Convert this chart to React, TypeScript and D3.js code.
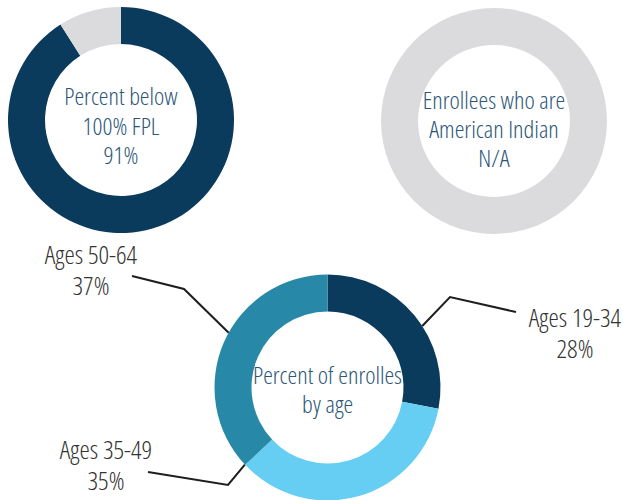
import React from "react";
import * as d3 from "d3";

const W = 623;
const H = 500;

// Data
const fplCategories = ["Below 100% FPL", "Other"];
const fplValues = [91, 9];
const fplText = ["Percent below", "100% FPL", "91%"];

const aiCategories = ["N/A"];
const aiValues = [100];
const aiText = ["Enrollees who are", "American Indian", "N/A"];

const ageCategories = ["Ages 19-34", "Ages 35-49", "Ages 50-64"];
const ageValues = [28, 35, 37];
const ageText = ["Percent of enrolles", "by age"];

// Styles / layout
const FONT = "'Open Sans', 'DejaVu Sans', sans-serif";
const INNER_COLOR = "#2c5677";
const LABEL_COLOR = "#333333";
const fplColors = ["#0a3b5c", "#dbdbdd"];
const aiColors = ["#dbdbdd"];
const ageColors = ["#0a3b5c", "#66cef3", "#2789a7"];

const R_OUT = 113;
const R_IN = 76;

// label layout: anchor angle on the ring (deg from top), elbow/end offsets relative to center, text position
const ageLabelLayout = [
  { anchorDeg: 57, elbow: [122.5, -90.5], end: [188.5, -75.5], text: [575, 318] },
  { anchorDeg: 227, elbow: [-99.5, 97.5], end: [-179.5, 84.5], text: [106, 450] },
  { anchorDeg: 299, elbow: [-143.5, -98.5], end: [-195.5, -111.5], text: [91, 255] },
];

const innerStyle = { fontFamily: FONT, fontSize: 24.5, fontStretch: "75%", fontWeight: 300 };
const labelStyle = { fontFamily: FONT, fontSize: 26, fontStretch: "75%", fontWeight: 300 };

function Donut({ cx, cy, values, colors, lines, lineGap, firstBaseline }: any) {
  const pie = d3.pie<number>().sort(null).value((d) => d);
  const arc = d3.arc<d3.PieArcDatum<number>>().innerRadius(R_IN).outerRadius(R_OUT);
  const arcs = pie(values);
  return (
    <g transform={`translate(${cx},${cy})`}>
      {arcs.map((a, i) => (
        <path key={i} d={arc(a) || ""} fill={colors[i]} />
      ))}
      {lines.map((t: string, i: number) => (
        <text
          key={i}
          x={0}
          y={firstBaseline + i * lineGap}
          textAnchor="middle"
          fill={INNER_COLOR}
          style={innerStyle}
        >
          {t}
        </text>
      ))}
    </g>
  );
}

export default function App() {
  const cx3 = 327.5;
  const cy3 = 387.5;
  const toRad = (d: number) => (d * Math.PI) / 180;
  return (
    <svg width={W} height={H} style={{ position: "absolute", left: 0, top: 0, background: "#fff" }}>
      <Donut cx={121} cy={120} values={fplValues} colors={fplColors} lines={fplText} lineGap={29.5} firstBaseline={-15} />
      <Donut cx={494} cy={121} values={aiValues} colors={aiColors} lines={aiText} lineGap={29} firstBaseline={-12} />
      <Donut cx={cx3} cy={cy3} values={ageValues} colors={ageColors} lines={ageText} lineGap={29} firstBaseline={-3.5} />
      <g>
        {ageLabelLayout.map((l, i) => {
          const ax = cx3 + R_OUT * Math.sin(toRad(l.anchorDeg));
          const ay = cy3 - R_OUT * Math.cos(toRad(l.anchorDeg));
          const pts: [number, number][] = [
            [ax, ay],
            [cx3 + l.elbow[0], cy3 + l.elbow[1]],
            [cx3 + l.end[0], cy3 + l.end[1]],
          ];
          const line = d3.line();
          return (
            <g key={i}>
              <path d={line(pts) || ""} fill="none" stroke="#1e1e1e" strokeWidth={2} />
              <text x={l.text[0]} y={l.text[1] + 9} textAnchor="middle" fill={LABEL_COLOR} style={labelStyle}>
                {ageCategories[i]}
              </text>
              <text x={l.text[0]} y={l.text[1] + 40} textAnchor="middle" fill={LABEL_COLOR} style={labelStyle}>
                {`${ageValues[i]}%`}
              </text>
            </g>
          );
        })}
      </g>
    </svg>
  );
}
